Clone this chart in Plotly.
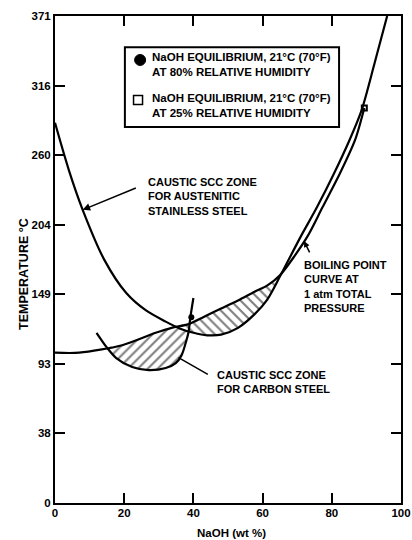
import numpy as np
import plotly.graph_objects as go

# ---------------- data ----------------
TEMP_TICKS = [0, 38, 93, 149, 204, 260, 316, 371]          # deg C tick labels (evenly spaced on chart)
TEMP_LABELS = [str(t) for t in TEMP_TICKS]
NAOH_TICKS = [0, 20, 40, 60, 80, 100]

# Caustic SCC threshold for austenitic stainless steel
AUST_X = [0, 4, 8, 14.3, 20.6, 26.3, 32, 36, 40, 44, 48, 52.9, 57.7, 61.4, 65, 70.9, 75.7, 80.6, 85.1, 88.6, 92.3, 96]
AUST_T = [286, 248, 216, 176, 150, 136, 127, 121.5, 118, 116, 116.5, 122, 133, 145, 163, 194, 218, 245, 272, 296, 333, 371]

# Boiling point curve at 1 atm
BOIL_X = [0, 7, 19.4, 29.1, 33.7, 38.6, 43.1, 48, 52.9, 57.7, 61.4, 65, 72.8, 77.3, 82.3, 86.7, 89.4]
BOIL_T = [102, 102, 108, 118, 122, 125, 131, 137.5, 144, 151, 156, 164, 194, 218, 245, 272, 298]

# Caustic SCC threshold for carbon steel
CARB_X = [12, 14.9, 17.7, 22.3, 27.1, 32, 34.9, 36.6, 38, 38.6, 39.1, 40]
CARB_T = [118, 106.5, 97.7, 90.5, 88, 89.7, 93.6, 100, 112, 118.6, 130, 146]

# Equilibrium points (legend symbols)
EQ80_X, EQ80_T = [39.4], [130.5]
EQ25_X, EQ25_T = [89.4], [298]

FONT = "Liberation Sans, Arial, Helvetica, sans-serif"


def to_axis(t):
    """Map deg C onto the chart's evenly spaced tick scale."""
    return np.interp(np.asarray(t, dtype=float), TEMP_TICKS, np.arange(len(TEMP_TICKS)))


def crossings(x1, y1, x2, y2, lo, hi):
    g = np.linspace(lo, hi, 4001)
    d = np.interp(g, x1, y1) - np.interp(g, x2, y2)
    idx = np.where(np.sign(d[:-1]) != np.sign(d[1:]))[0]
    return [g[i] for i in idx]


def zone(lower_x, lower_t, upper_x, upper_t, xl, xr):
    lx = np.asarray(lower_x, float); lt = np.asarray(lower_t, float)
    ux = np.asarray(upper_x, float); ut = np.asarray(upper_t, float)
    yl = np.interp(xl, ux, ut); yr = np.interp(xr, ux, ut)
    m1 = (lx > xl + 0.3) & (lx < xr - 0.3)
    m2 = (ux > xl + 0.3) & (ux < xr - 0.3)
    px = [xl] + list(lx[m1]) + [xr] + list(ux[m2][::-1]) + [xl]
    pt = [yl] + list(lt[m1]) + [yr] + list(ut[m2][::-1]) + [yl]
    return px, to_axis(pt)


fig = go.Figure()

# carbon steel zone (between carbon curve and boiling curve)
cx = crossings(CARB_X, CARB_T, BOIL_X, BOIL_T, min(CARB_X), max(CARB_X))
zx, zy = zone(CARB_X, CARB_T, BOIL_X, BOIL_T, cx[0], cx[-1])
fig.add_trace(go.Scatter(x=zx, y=zy, mode="lines", fill="toself", fillcolor="rgba(0,0,0,0)",
                         line=dict(width=0, shape="spline", smoothing=0.8),
                         fillpattern=dict(shape="/", fgcolor="black", bgcolor="white", size=7, solidity=0.3),
                         hoverinfo="skip", showlegend=False))

# austenitic stainless steel zone (between austenitic curve and boiling curve)
ax_ = crossings(AUST_X, AUST_T, BOIL_X, BOIL_T, 20, 80)
zx, zy = zone(AUST_X, AUST_T, BOIL_X, BOIL_T, ax_[0], ax_[-1])
fig.add_trace(go.Scatter(x=zx, y=zy, mode="lines", fill="toself", fillcolor="rgba(0,0,0,0)",
                         line=dict(width=0, shape="spline", smoothing=0.8),
                         fillpattern=dict(shape="\\", fgcolor="black", bgcolor="white", size=7, solidity=0.3),
                         hoverinfo="skip", showlegend=False))

for xs, ts in [(AUST_X, AUST_T), (BOIL_X, BOIL_T), (CARB_X, CARB_T)]:
    fig.add_trace(go.Scatter(x=xs, y=to_axis(ts), mode="lines",
                             line=dict(color="black", width=2.2, shape="spline", smoothing=0.8),
                             hoverinfo="skip", showlegend=False))

fig.add_trace(go.Scatter(x=EQ80_X, y=to_axis(EQ80_T), mode="markers",
                         marker=dict(symbol="circle", size=6, color="black"), showlegend=False))
fig.add_trace(go.Scatter(x=EQ25_X, y=to_axis(EQ25_T), mode="markers",
                         marker=dict(symbol="square-open", size=5, color="black", line=dict(width=2)),
                         showlegend=False))

afont = dict(family=FONT, size=11, color="black", weight="bold")
lfont = dict(family=FONT, size=11.5, color="black", weight="bold")

annotations = [
    # austenitic label and arrow
    dict(x=26.2, y=to_axis(227), xref="x", yref="y", xanchor="left", yanchor="middle", align="left",
         text="CAUSTIC SCC ZONE<br>FOR AUSTENITIC<br>STAINLESS STEEL", showarrow=False, font=afont),
    dict(x=AUST_X[2], y=float(to_axis(AUST_T[2])), ax=23.8, ay=float(to_axis(234)), xref="x", yref="y",
         axref="x", ayref="y", text="", showarrow=True, arrowhead=2, arrowsize=1, arrowwidth=1.5,
         arrowcolor="black"),
    # boiling point label and arrow
    dict(x=71.4, y=to_axis(155), xref="x", yref="y", xanchor="left", yanchor="middle", align="left",
         text="BOILING POINT<br>CURVE AT<br>1 atm TOTAL<br>PRESSURE", showarrow=False, font=afont),
    dict(x=72.0, y=float(to_axis(191)), ax=73.8, ay=float(to_axis(181)), xref="x", yref="y",
         axref="x", ayref="y", text="", showarrow=True, arrowhead=2, arrowsize=0.8, arrowwidth=1.5,
         arrowcolor="black"),
    # carbon steel label and leader
    dict(x=46.2, y=to_axis(79), xref="x", yref="y", xanchor="left", yanchor="middle", align="left",
         text="CAUSTIC SCC ZONE<br>FOR CARBON STEEL", showarrow=False, font=afont),
    dict(x=35.7, y=float(to_axis(98)), ax=44.6, ay=float(to_axis(84)), xref="x", yref="y",
         axref="x", ayref="y", text="", showarrow=True, arrowhead=0, arrowwidth=1.5, arrowcolor="black"),
    # legend texts
    dict(x=0.275, y=0.9014, xref="paper", yref="paper", xanchor="left", yanchor="middle", align="left",
         text="NaOH EQUILIBRIUM, 21°C (70°F)<br>AT 80% RELATIVE HUMIDITY", showarrow=False, font=lfont),
    dict(x=0.275, y=0.8172, xref="paper", yref="paper", xanchor="left", yanchor="middle", align="left",
         text="NaOH EQUILIBRIUM, 21°C (70°F)<br>AT 25% RELATIVE HUMIDITY", showarrow=False, font=lfont),
    # axis titles
    dict(x=-0.116, y=0.47, xref="paper", yref="paper", textangle=-90, text="TEMPERATURE °C",
         showarrow=False, font=dict(family=FONT, size=12.5, color="black", weight="bold")),
    dict(x=0.51, y=-0.0755, xref="paper", yref="paper", yanchor="bottom", text="NaOH (wt %)",
         borderpad=0, showarrow=False, font=dict(family=FONT, size=11.5, color="black", weight="bold")),
]

shapes = [
    dict(type="rect", xref="paper", yref="paper", x0=0.202, x1=0.821, y0=0.772, y1=0.936,
         line=dict(color="black", width=2), fillcolor="rgba(0,0,0,0)"),
    dict(type="circle", xref="paper", yref="paper", xsizemode="pixel", ysizemode="pixel",
         xanchor=0.246, yanchor=0.9097, x0=-5.5, x1=5.5, y0=-5.5, y1=5.5,
         line=dict(color="black", width=1), fillcolor="black"),
    dict(type="rect", xref="paper", yref="paper", xsizemode="pixel", ysizemode="pixel",
         xanchor=0.240, yanchor=0.8275, x0=-4.5, x1=4.5, y0=-4.5, y1=4.5,
         line=dict(color="black", width=1.5), fillcolor="white"),
]

tickfont = dict(family=FONT, size=11.5, color="black", weight="bold")

fig.update_layout(
    width=412, height=540,
    margin=dict(l=55, r=11, t=16, b=37),
    paper_bgcolor="white", plot_bgcolor="white",
    annotations=annotations, shapes=shapes,
    showlegend=False,
    xaxis=dict(range=[0, 100], tickvals=NAOH_TICKS, ticktext=[str(v) for v in NAOH_TICKS],
               ticks="inside", ticklen=10, tickwidth=1.5, tickcolor="black",
               showline=True, linewidth=2, linecolor="black", mirror="ticks",
               showgrid=False, zeroline=False, tickfont=tickfont, fixedrange=True, automargin=False,
               ticklabeloverflow="allow", ticklabelstandoff=-2),
    yaxis=dict(range=[0, 7], tickvals=list(range(len(TEMP_TICKS))), ticktext=TEMP_LABELS,
               ticks="inside", ticklen=10, tickwidth=1.5, tickcolor="black",
               showline=True, linewidth=2, linecolor="black", mirror="ticks",
               showgrid=False, zeroline=False, tickfont=tickfont, fixedrange=True, automargin=False,
               ticklabeloverflow="allow"),
)

fig.write_html("out.html", config={"displayModeBar": False},
               post_script="document.body.style.margin='0px';")
